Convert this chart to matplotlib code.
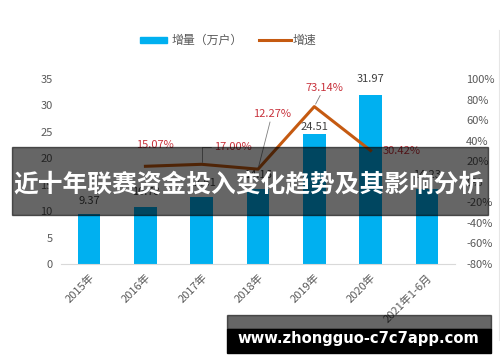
import matplotlib
matplotlib.use("Agg")
import matplotlib.pyplot as plt
from matplotlib.patches import Rectangle
from matplotlib.lines import Line2D

plt.rcParams["font.family"] = ["Noto Sans CJK SC", "DejaVu Sans"]

## data

categories = ["2015年", "2016年", "2017年", "2018年", "2019年", "2020年", "2021年1-6月"]
increase = [9.37, 10.78, 12.61, 14.16, 24.51, 31.97, 14.23]
growth_years = ["2016年", "2017年", "2018年", "2019年", "2020年"]
growth = [0.1507, 0.1700, 0.1227, 0.7314, 0.3042]

# label placement (pixels)
bar_label_up = [13, 15, 14, 14, 7, 16, 14]
growth_label_off = [(10, 21), (31, 17), (14, 55), (10, 19), (31, 0)]

BLUE = "#00B0F0"
ORANGE = "#C55A11"
RED = "#C8323C"
GRAY = "#595959"

W, H = 500, 362


def fx(px):
    return px / W


def fy(py):
    return 1 - py / H


fig = plt.figure(figsize=(5, 3.62), dpi=100)
ax = fig.add_axes([fx(61), fy(264), fx(455) - fx(61), fy(79) - fy(264)])

x = list(range(len(categories)))
bars = ax.bar(x, increase, width=0.4, color=BLUE, zorder=2)
ax.set_xlim(-0.5, len(categories) - 0.5)
ax.set_ylim(0, 35)
ax.set_yticks(range(0, 36, 5))
ax.set_xticks(x)
ax.set_xticklabels(categories, rotation=45, ha="right", rotation_mode="anchor")
ax.tick_params(length=0, labelsize=8, colors=GRAY, pad=6)
for s in ["top", "right", "left"]:
    ax.spines[s].set_visible(False)
ax.spines["bottom"].set_color("#D9D9D9")

for xi, v, up in zip(x, increase, bar_label_up):
    ax.annotate(f"{v:.2f}", (xi, v), xytext=(0, up), textcoords="offset pixels",
                ha="center", va="center", fontsize=8, color="#404040")

ax2 = ax.twinx()
gx = [categories.index(c) for c in growth_years]
ax2.plot(gx, growth, color=ORANGE, lw=2.2, zorder=3)
ax2.set_ylim(-0.8, 1.0)
ax2.set_yticks([i / 10 for i in range(-8, 11, 2)])
ax2.set_yticklabels([f"{round(t * 100)}%" for t in ax2.get_yticks()])
ax2.tick_params(length=0, labelsize=8, colors=GRAY, pad=8)
for s in ax2.spines.values():
    s.set_visible(False)

for i, (xi, g) in enumerate(zip(gx, growth)):
    dx, dy = growth_label_off[i]
    arrow = None
    if i == 1:
        arrow = dict(arrowstyle="-", color="#7F7F7F", lw=0.6, shrinkA=0, shrinkB=2,
                     connectionstyle="angle,angleA=0,angleB=90,rad=0")
    elif i in (2, 3):
        arrow = dict(arrowstyle="-", color="#7F7F7F", lw=0.6, shrinkA=0, shrinkB=2)
    ax2.annotate(f"{g * 100:.2f}%", (xi, g), xytext=(dx, dy), textcoords="offset pixels",
                 ha="center", va="center", fontsize=8, color=RED, arrowprops=arrow)

# legend
fig.patches.append(Rectangle((fx(140), fy(43)), fx(167) - fx(140), 6 / H,
                             transform=fig.transFigure, color=BLUE))
fig.text(fx(172), fy(40), "增量（万户）", va="center", ha="left", fontsize=8.6, color=GRAY)
fig.add_artist(Line2D([fx(259), fx(291)], [fy(40), fy(40)], color=ORANGE, lw=2.2,
                      transform=fig.transFigure))
fig.text(fx(293), fy(40), "增速", va="center", ha="left", fontsize=8.6, color=GRAY)

# faint right border
fig.add_artist(Line2D([fx(499), fx(499)], [fy(30), fy(340)], color="#E6E6E6", lw=0.8,
                      transform=fig.transFigure))

# title banner
fig.patches.append(Rectangle((fx(12), fy(215)), fx(488) - fx(12), 68 / H,
                             transform=fig.transFigure, color="black", alpha=0.6, zorder=10))
fig.text(fx(248), fy(184), "近十年联赛资金投入变化趋势及其影响分析", ha="center", va="center",
         fontsize=17.8, fontweight="bold", color="white", zorder=11)

# watermark
fig.patches.append(Rectangle((fx(227), fy(329)), fx(491) - fx(227), 14 / H,
                             transform=fig.transFigure, color="black", alpha=0.6, zorder=10))
fig.patches.append(Rectangle((fx(227), fy(353)), fx(491) - fx(227), 24 / H,
                             transform=fig.transFigure, color="black", zorder=10))
fig.text(fx(358), fy(338), "www.zhongguo-c7c7app.com", ha="center", va="center",
         fontsize=10.6, fontweight="bold", color="white", family="DejaVu Sans", zorder=11)

fig.savefig("out.png", dpi=100)
